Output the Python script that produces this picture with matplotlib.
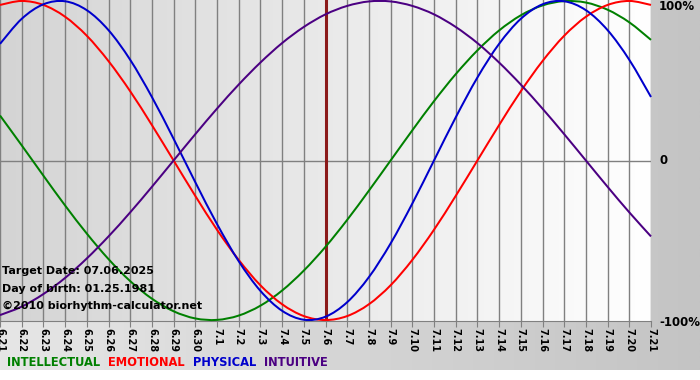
import matplotlib
matplotlib.use("Agg")
import matplotlib.pyplot as plt
import numpy as np
from matplotlib.colors import LinearSegmentedColormap
from matplotlib.path import Path
from matplotlib.patches import PathPatch

# days shown on the chart (6.21 .. 7.21), target date 7.6
day_labels = ['6.21', '6.22', '6.23', '6.24', '6.25', '6.26', '6.27', '6.28', '6.29', '6.30',
              '7.1', '7.2', '7.3', '7.4', '7.5', '7.6', '7.7', '7.8', '7.9', '7.10',
              '7.11', '7.12', '7.13', '7.14', '7.15', '7.16', '7.17', '7.18', '7.19', '7.20', '7.21']
target_idx = 15

# daily values in percent
physical = [73.1, 88.8, 97.9, 99.8, 94.2, 81.7, 63.1, 39.8, 13.6, -13.6,
            -39.8, -63.1, -81.7, -94.2, -99.8, -97.9, -88.8, -73.1, -52.0, -27.0,
            0.0, 27.0, 52.0, 73.1, 88.8, 97.9, 99.8, 94.2, 81.7, 63.1, 39.8]
emotional = [97.5, 100.0, 97.5, 90.1, 78.2, 62.3, 43.4, 22.2, 0.0, -22.2,
             -43.4, -62.3, -78.2, -90.1, -97.5, -100.0, -97.5, -90.1, -78.2, -62.3,
             -43.4, -22.2, 0.0, 22.2, 43.4, 62.3, 78.2, 90.1, 97.5, 100.0, 97.5]
intellectual = [28.2, 9.5, -9.5, -28.2, -45.8, -61.8, -75.6, -86.6, -94.5, -99.0,
                -99.9, -97.2, -91.0, -81.5, -69.0, -54.1, -37.2, -18.9, 0.0, 18.9,
                37.2, 54.1, 69.0, 81.5, 91.0, 97.2, 99.9, 99.0, 94.5, 86.6, 75.6]
intuitive = [-96.9, -91.6, -83.7, -73.6, -61.4, -47.6, -32.5, -16.5, 0.0, 16.5,
             32.5, 47.6, 61.4, 73.6, 83.7, 91.6, 96.9, 99.7, 99.7, 96.9,
             91.6, 83.7, 73.6, 61.4, 47.6, 32.5, 16.5, 0.0, -16.5, -32.5, -47.6]

legend_names = ['INTELLECTUAL', 'EMOTIONAL', 'PHYSICAL', 'INTUITIVE']
legend_colors = ['#008000', '#ff0000', '#0000cc', '#4b0082']
info_lines = ['Target Date: 07.06.2025', 'Day of birth: 01.25.1981',
              '\u00a92010 biorhythm-calculator.net']


def smooth_path(xs, ys):
    # bezier through the daily points, control points from neighbours
    xs = np.asarray(xs, float)
    ys = np.asarray(ys, float)
    n = len(xs)
    verts = [(xs[0], ys[0])]
    codes = [Path.MOVETO]
    for i in range(n - 1):
        p0 = i - 1 if i > 0 else i
        p3 = i + 2 if i + 2 < n else i + 1
        c1 = (xs[i] + (xs[i + 1] - xs[p0]) / 6, ys[i] + (ys[i + 1] - ys[p0]) / 6)
        c2 = (xs[i + 1] - (xs[p3] - xs[i]) / 6, ys[i + 1] - (ys[p3] - ys[i]) / 6)
        verts += [c1, c2, (xs[i + 1], ys[i + 1])]
        codes += [Path.CURVE4] * 3
    return Path(verts, codes)


W, H = 700, 380
fig = plt.figure(figsize=(W / 100, H / 100), dpi=100)
fig.patch.set_facecolor('white')

# outer grey band behind everything
bg = fig.add_axes([0, 10 / H, 1, 1 - 10 / H])
bg.set_axis_off()
outer = LinearSegmentedColormap.from_list('outer', ['#e6e6e6', '#c4c4c4'])
bg.imshow(np.linspace(0, 1, 256)[None, :], cmap=outer, aspect='auto',
          extent=[0, 1, 0, 1], zorder=0)
bg.set_xlim(0, 1)
bg.set_ylim(0, 1)

ax = fig.add_axes([0, 1 - 321 / H, 651 / W, 321 / H])
x = np.arange(len(day_labels))
ax.set_xlim(0, len(day_labels) - 1)
ax.set_ylim(-100.6, 100.6)

inner = LinearSegmentedColormap.from_list('inner', ['#d4d4d4', '#ffffff'])
ax.imshow(np.linspace(0, 1, 256)[None, :], cmap=inner, aspect='auto',
          extent=[0, len(day_labels) - 1, -100.6, 100.6], zorder=0)

for xi in x:
    ax.axvline(xi, color='#808080', lw=1.0, zorder=1)
ax.axhline(0, color='#808080', lw=1.0, zorder=1)
ax.axvline(target_idx, color='#8b1a1a', lw=2.2, zorder=2)

series = [intellectual, emotional, physical, intuitive]
for vals, col in zip(series, legend_colors):
    ax.add_patch(PathPatch(smooth_path(x, vals), facecolor='none', edgecolor=col,
                           lw=1.45, zorder=3, clip_on=False))

for s in ['top', 'left', 'right']:
    ax.spines[s].set_visible(False)
ax.spines['bottom'].set_color('#808080')
ax.set_yticks([])
ax.set_xticks(x)
ax.set_xticklabels(day_labels, rotation=-90, fontsize=7, fontweight='bold')
ax.tick_params(axis='x', length=4, color='#808080', pad=1)

# labels on the right
for ypix, lab in [(7, '100%'), (161, '0'), (322, '-100%')]:
    fig.text(659 / W, 1 - ypix / H, lab, fontsize=8.5, fontweight='bold',
             ha='left', va='center')

# info text inside the plot
for i, t in enumerate(info_lines):
    fig.text(2 / W, 1 - (271 + i * 17.5) / H, t, fontsize=8, fontweight='bold',
             ha='left', va='center')

# legend row
xpos = 7 / W
for name, col in zip(legend_names, legend_colors):
    t = fig.text(xpos, 1 - 362 / H, name, fontsize=8.3, fontweight='bold',
                 color=col, ha='left', va='center')
    fig.canvas.draw()
    bb = t.get_window_extent()
    xpos = (bb.x1 + 8) / W

fig.savefig('out.png', dpi=100)
